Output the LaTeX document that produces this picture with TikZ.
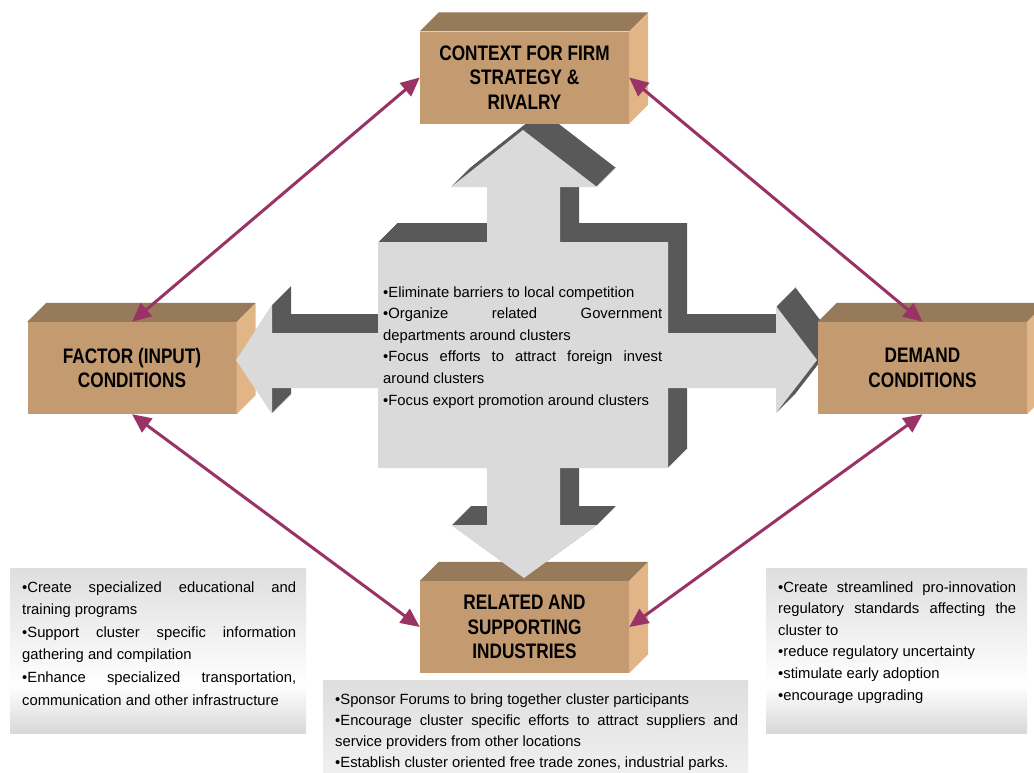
\documentclass[tikz,border=0pt]{standalone}
\usepackage{fontspec}
\setmainfont{Liberation Sans}
\newfontfamily\narrowfont{Liberation Sans}[FakeStretch=0.82]
\usetikzlibrary{arrows.meta,calc}
\definecolor{boxfrontc}{HTML}{C49B70}
\definecolor{boxtopc}{HTML}{977A59}
\definecolor{boxsidec}{HTML}{E2B587}
\definecolor{crosslight}{HTML}{DADADA}
\definecolor{crossdark}{HTML}{595959}
\definecolor{plum}{HTML}{993366}
\definecolor{paneltop}{HTML}{DEDEDE}
\definecolor{panelbot}{HTML}{D8D8D8}
\tikzset{
  boxfront/.style={fill=boxfrontc, inner sep=0, minimum width=209, minimum height=92,
    align=center, text=black, font=\narrowfont\bfseries\fontsize{21}{24.5}\selectfont},
  boxtop/.style={fill=boxtopc},
  boxside/.style={fill=boxsidec},
  bodytext/.style={inner sep=0, anchor=base west, align=justify, text=black,
    font=\fontsize{14.8}{#1}\selectfont,
    execute at begin node={\tolerance=10000\relax\hyphenpenalty=10000\relax}},
  linkarrow/.style={draw=plum, line width=3pt, {Triangle[length=19pt,width=17pt]}-{Triangle[length=19pt,width=17pt]}, fill=plum},
}
\newcommand\boxfaces[1]{%
  \fill[boxtop] (#1.north west) -- ++(19,-19) -- ($(#1.north east)+(19,-19)$) -- (#1.north east) -- cycle;
  \fill[boxside] (#1.north east) -- ++(19,-19) -- ($(#1.south east)+(19,-19)$) -- (#1.south east) -- cycle;}
\def\crosspath{(523,130) -- (597,187) -- (560,187) -- (560,242) -- (668,242) -- (668,333) -- (776,333) -- (776,306) -- (817,360) -- (776,413) -- (776,388) -- (668,388) -- (668,468) -- (560,468) -- (560,525) -- (597,525) -- (524,578) -- (451,525) -- (487,525) -- (487,468) -- (378,468) -- (378,388) -- (272,388) -- (272,414) -- (236,360) -- (272,305) -- (272,333) -- (378,333) -- (378,242) -- (487,242) -- (487,187) -- (451,187) -- cycle}
\begin{document}
\begin{tikzpicture}[x=1pt,y=-1pt]
\useasboundingbox (0,0) rectangle (1034,772);
\fill[white] (0,0) rectangle (1034,772);

% text panels
\shade[top color=paneltop, bottom color=white] (10,568) rectangle (306,686);
\shade[top color=white, bottom color=panelbot] (10,685) rectangle (306,733);
\shade[top color=paneltop, bottom color=white] (766,568) rectangle (1027,686);
\shade[top color=white, bottom color=panelbot] (766,685) rectangle (1027,733);
\shade[top color=paneltop, bottom color=white!94!black] (323,680) rectangle (748,772);

% boxes behind the cross
\node[boxfront] (factor) at (132,368) {FACTOR (INPUT)\\CONDITIONS};
\boxfaces{factor}
\node[boxfront] (related) at (524.5,627) {RELATED AND\\SUPPORTING\\INDUSTRIES};
\boxfaces{related}

% central cross (extruded)
\foreach \t in {1,...,19}{\fill[crossdark, shift={(\t,-\t)}] \crosspath;}
\fill[crosslight] \crosspath;

% boxes in front
\node[boxfront] (ctx) at (524.5,77.5) {CONTEXT FOR FIRM\\STRATEGY \&\\RIVALRY};
\boxfaces{ctx}
\node[boxfront] (demand) at (922.5,368) {DEMAND\\CONDITIONS};
\boxfaces{demand}

% texts
\node[bodytext=21.6, text width=279] (ctext) at (383,297) {%
•Eliminate barriers to local competition\par
•Organize related Government\linebreak departments around clusters\par
•Focus efforts to attract foreign invest\linebreak around clusters\par
•Focus export promotion around clusters};
\node[bodytext=22.6, text width=274] (ltext) at (22,592) {%
•Create specialized educational and\linebreak training programs\par
•Support cluster specific information\linebreak gathering and compilation\par
•Enhance specialized transportation,\linebreak communication and other infrastructure};
\node[bodytext=21.6, text width=238] (rtext) at (778,592) {%
•Create streamlined pro-innovation\linebreak regulatory standards affecting the\linebreak cluster to\par
•reduce regulatory uncertainty\par
•stimulate early adoption\par
•encourage upgrading};
\node[bodytext=21, text width=403] (btext) at (335,704) {%
•Sponsor Forums to bring together cluster participants\par
•Encourage cluster specific efforts to attract suppliers and\linebreak service providers from other locations\par
•Establish cluster oriented free trade zones, industrial parks.};

% links
\draw[linkarrow] (ctx.west) -- (factor.north);
\draw[linkarrow] (ctx.east) -- (demand.north);
\draw[linkarrow] (factor.south) -- (related.west);
\draw[linkarrow] (demand.south) -- (related.east);
\end{tikzpicture}
\end{document}
